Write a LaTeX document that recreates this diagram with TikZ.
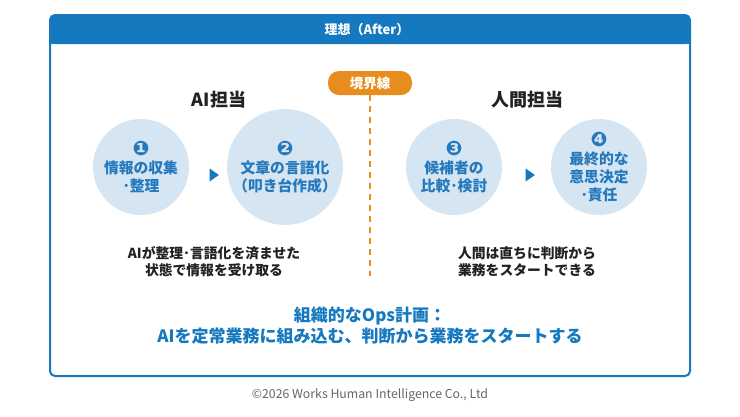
\documentclass[tikz,border=0pt]{standalone}
\usepackage{fontspec}
\setmainfont{Noto Sans CJK JP}
\newfontfamily\symfont{DejaVu Sans}
\usetikzlibrary{shapes.geometric}
\definecolor{hdrblue}{HTML}{1479BF}
\definecolor{circfill}{HTML}{D5E5F2}
\definecolor{circtext}{HTML}{2478BC}
\definecolor{orng}{HTML}{E88C1E}
\definecolor{txtdark}{HTML}{222222}
\definecolor{copygray}{HTML}{666666}
\newcommand{\numc}[1]{{\symfont\fontsize{20}{15}\selectfont #1}}
\tikzset{
  stepcirc/.style={circle, fill=circfill, minimum size=96pt, inner sep=0pt, align=center,
    text=circtext, font=\fontsize{14.8}{18}\selectfont\bfseries},
  arrowtri/.style={isosceles triangle, isosceles triangle apex angle=70, fill=hdrblue, inner sep=0pt, minimum height=9pt, minimum width=13pt},
  roletitle/.style={font=\fontsize{18}{22}\selectfont\bfseries, text=txtdark},
  caption/.style={font=\fontsize{13.8}{17}\selectfont\bfseries, text=txtdark, align=center},
}
\begin{document}
\begin{tikzpicture}[x=1pt,y=-1pt]
\useasboundingbox (0,0) rectangle (740,416);
\fill[white] (0,0) rectangle (740,416);
% outer frame
\draw[hdrblue, line width=2pt, rounded corners=5pt] (50,15) rectangle (690,376);
\fill[hdrblue, rounded corners=5pt] (50,15) rectangle (690,44);
\fill[hdrblue] (50,30) rectangle (690,44);
\node[text=white, font=\fontsize{13}{15}\selectfont\bfseries] (hdr) at (367,30) {理想（After）};
% boundary pill
\node[fill=orng, rounded corners=11pt, minimum width=84pt, minimum height=24pt, text=white,
  font=\fontsize{13.5}{15}\selectfont\bfseries] (pill) at (370,83) {境界線};
\coordinate (lineend) at (370,276);
\draw[orng, line width=1.6pt, dash pattern=on 6pt off 5pt] (pill.south) -- (lineend);
% role titles
\node[roletitle] (ai) at (219,100) {AI担当};
\node[roletitle] (human) at (527,100) {人間担当};
% circles
\node[stepcirc] (c1) at (141,167) {\numc{❶}\\情報の収集\\･整理};
\node[stepcirc] (c2) at (285,167) {\numc{❷}\\文章の言語化\\（叩き台作成）};
\node[stepcirc] (c3) at (454,167) {\numc{❸}\\候補者の\\比較･検討};
\node[stepcirc] (c4) at (599,167) {\numc{❹}\\最終的な\\意思決定\\･責任};
\node[arrowtri] (t1) at (213,175) {};
\node[arrowtri] (t2) at (529,175) {};
% captions
\node[caption] (cap1) at (214,262) {AIが整理･言語化を済ませた\\状態で情報を受け取る};
\node[caption] (cap2) at (527,262) {人間は直ちに判断から\\業務をスタートできる};
% bottom message
\node[font=\fontsize{17}{21}\selectfont\bfseries, text=hdrblue, align=center] (msg) at (370,326)
  {組織的なOps計画：\\AIを定常業務に組み込む、判断から業務をスタートする};
% copyright
\node[font=\fontsize{12.3}{14}\selectfont, text=copygray] (copy) at (370,395) {©2026 Works Human Intelligence Co., Ltd};
\end{tikzpicture}
\end{document}
